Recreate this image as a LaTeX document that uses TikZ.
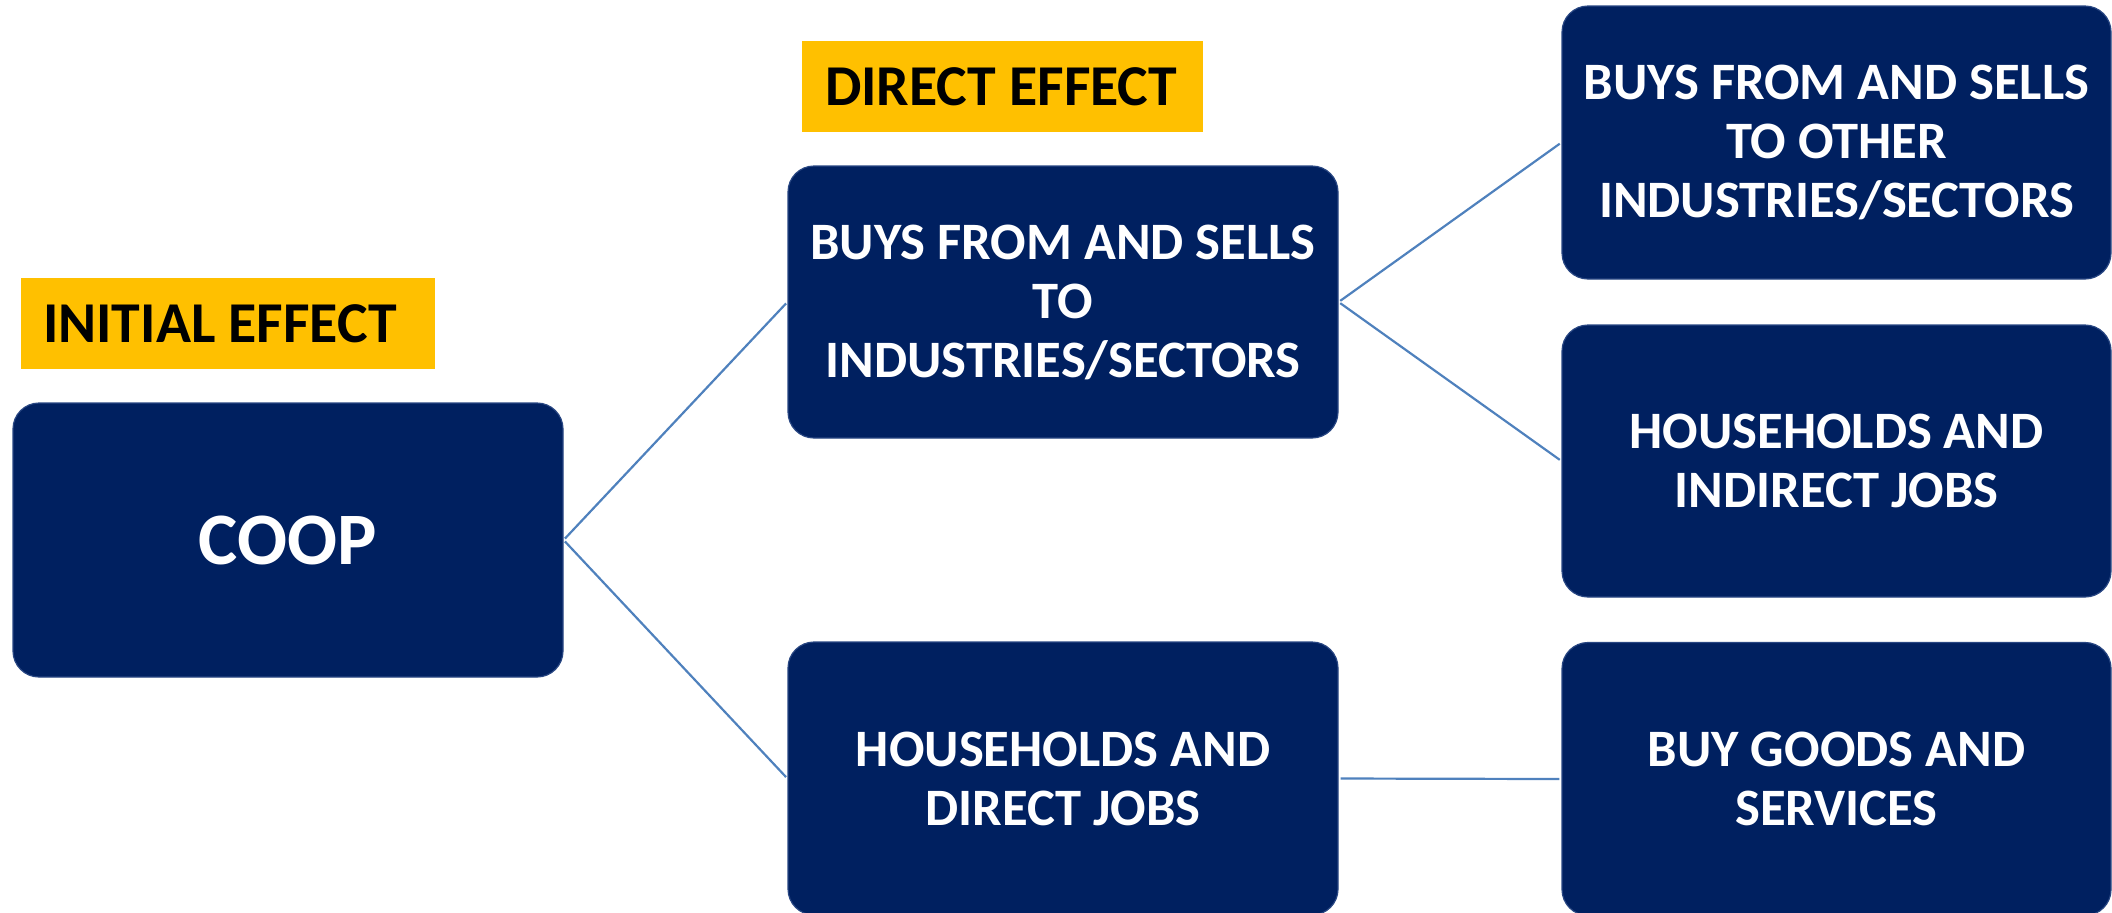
\documentclass[tikz,border=0pt]{standalone}
\usepackage{fontspec}
\setmainfont{Carlito}
\definecolor{navy}{RGB}{0,32,96}
\definecolor{navyedge}{RGB}{40,70,130}
\definecolor{amber}{RGB}{255,192,0}
\definecolor{link}{RGB}{79,129,189}
\tikzset{
  box/.style={draw=navyedge, line width=0.6pt, fill=navy, rounded corners=13pt,
    text=white, align=center, inner sep=0pt,
    font=\fontsize{26.3pt}{29.5pt}\selectfont\bfseries},
  tagbox/.style={fill=amber, inner sep=0pt, minimum height=45.5pt},
  tagtext/.style={text=black, inner sep=0pt, anchor=west,
    font=\fontsize{28.9pt}{34pt}\selectfont\bfseries},
  wire/.style={draw=link, line width=1.1pt, shorten <=1pt, shorten >=1pt}
}
\begin{document}
\begin{tikzpicture}[x=0.5pt, y=-0.5pt]
  \useasboundingbox (0,0) rectangle (2112,912);
  \clip (0,0) rectangle (2112,912);

  % effect labels
  \node[tagbox, minimum width=207pt] (initial) at (228,323.5) {};
  \node[tagtext, xshift=11pt] (initialtext) at (initial.west) {INITIAL EFFECT};
  \node[tagbox, minimum width=200.5pt] (direct) at (1002.5,86.5) {};
  \node[tagtext, xshift=11.5pt] (directtext) at (direct.west) {DIRECT EFFECT};

  % originating box
  \node[box, minimum width=275pt, minimum height=137pt,
    font=\fontsize{37pt}{44pt}\selectfont\bfseries] (coop) at (288,540) {COOP};

  % direct effects
  \node[box, minimum width=275pt, minimum height=136pt] (b1) at (1063,302)
    {BUYS FROM AND SELLS\\TO\\INDUSTRIES/SECTORS};
  \node[box, minimum width=275pt, minimum height=136.5pt] (b2) at (1063,778.5)
    {HOUSEHOLDS AND\\DIRECT JOBS};

  % further rounds
  \node[box, minimum width=274.5pt, minimum height=136.5pt] (r1) at (1836.5,142.5)
    {BUYS FROM AND SELLS\\TO OTHER\\INDUSTRIES/SECTORS};
  \node[box, minimum width=274.5pt, minimum height=136pt] (r2) at (1836.5,461)
    {HOUSEHOLDS AND\\INDIRECT JOBS};
  \node[box, minimum width=274.5pt, minimum height=136.5pt] (r3) at (1836.5,779)
    {BUY GOODS AND\\SERVICES};

  % connectors
  \draw[wire] (coop.east) -- (b1.west);
  \draw[wire] (coop.east) -- (b2.west);
  \draw[wire] (b1.east) -- (r1.west);
  \draw[wire] (b1.east) -- (r2.west);
  \draw[wire] (b2.east) -- (r3.west);
\end{tikzpicture}
\end{document}
